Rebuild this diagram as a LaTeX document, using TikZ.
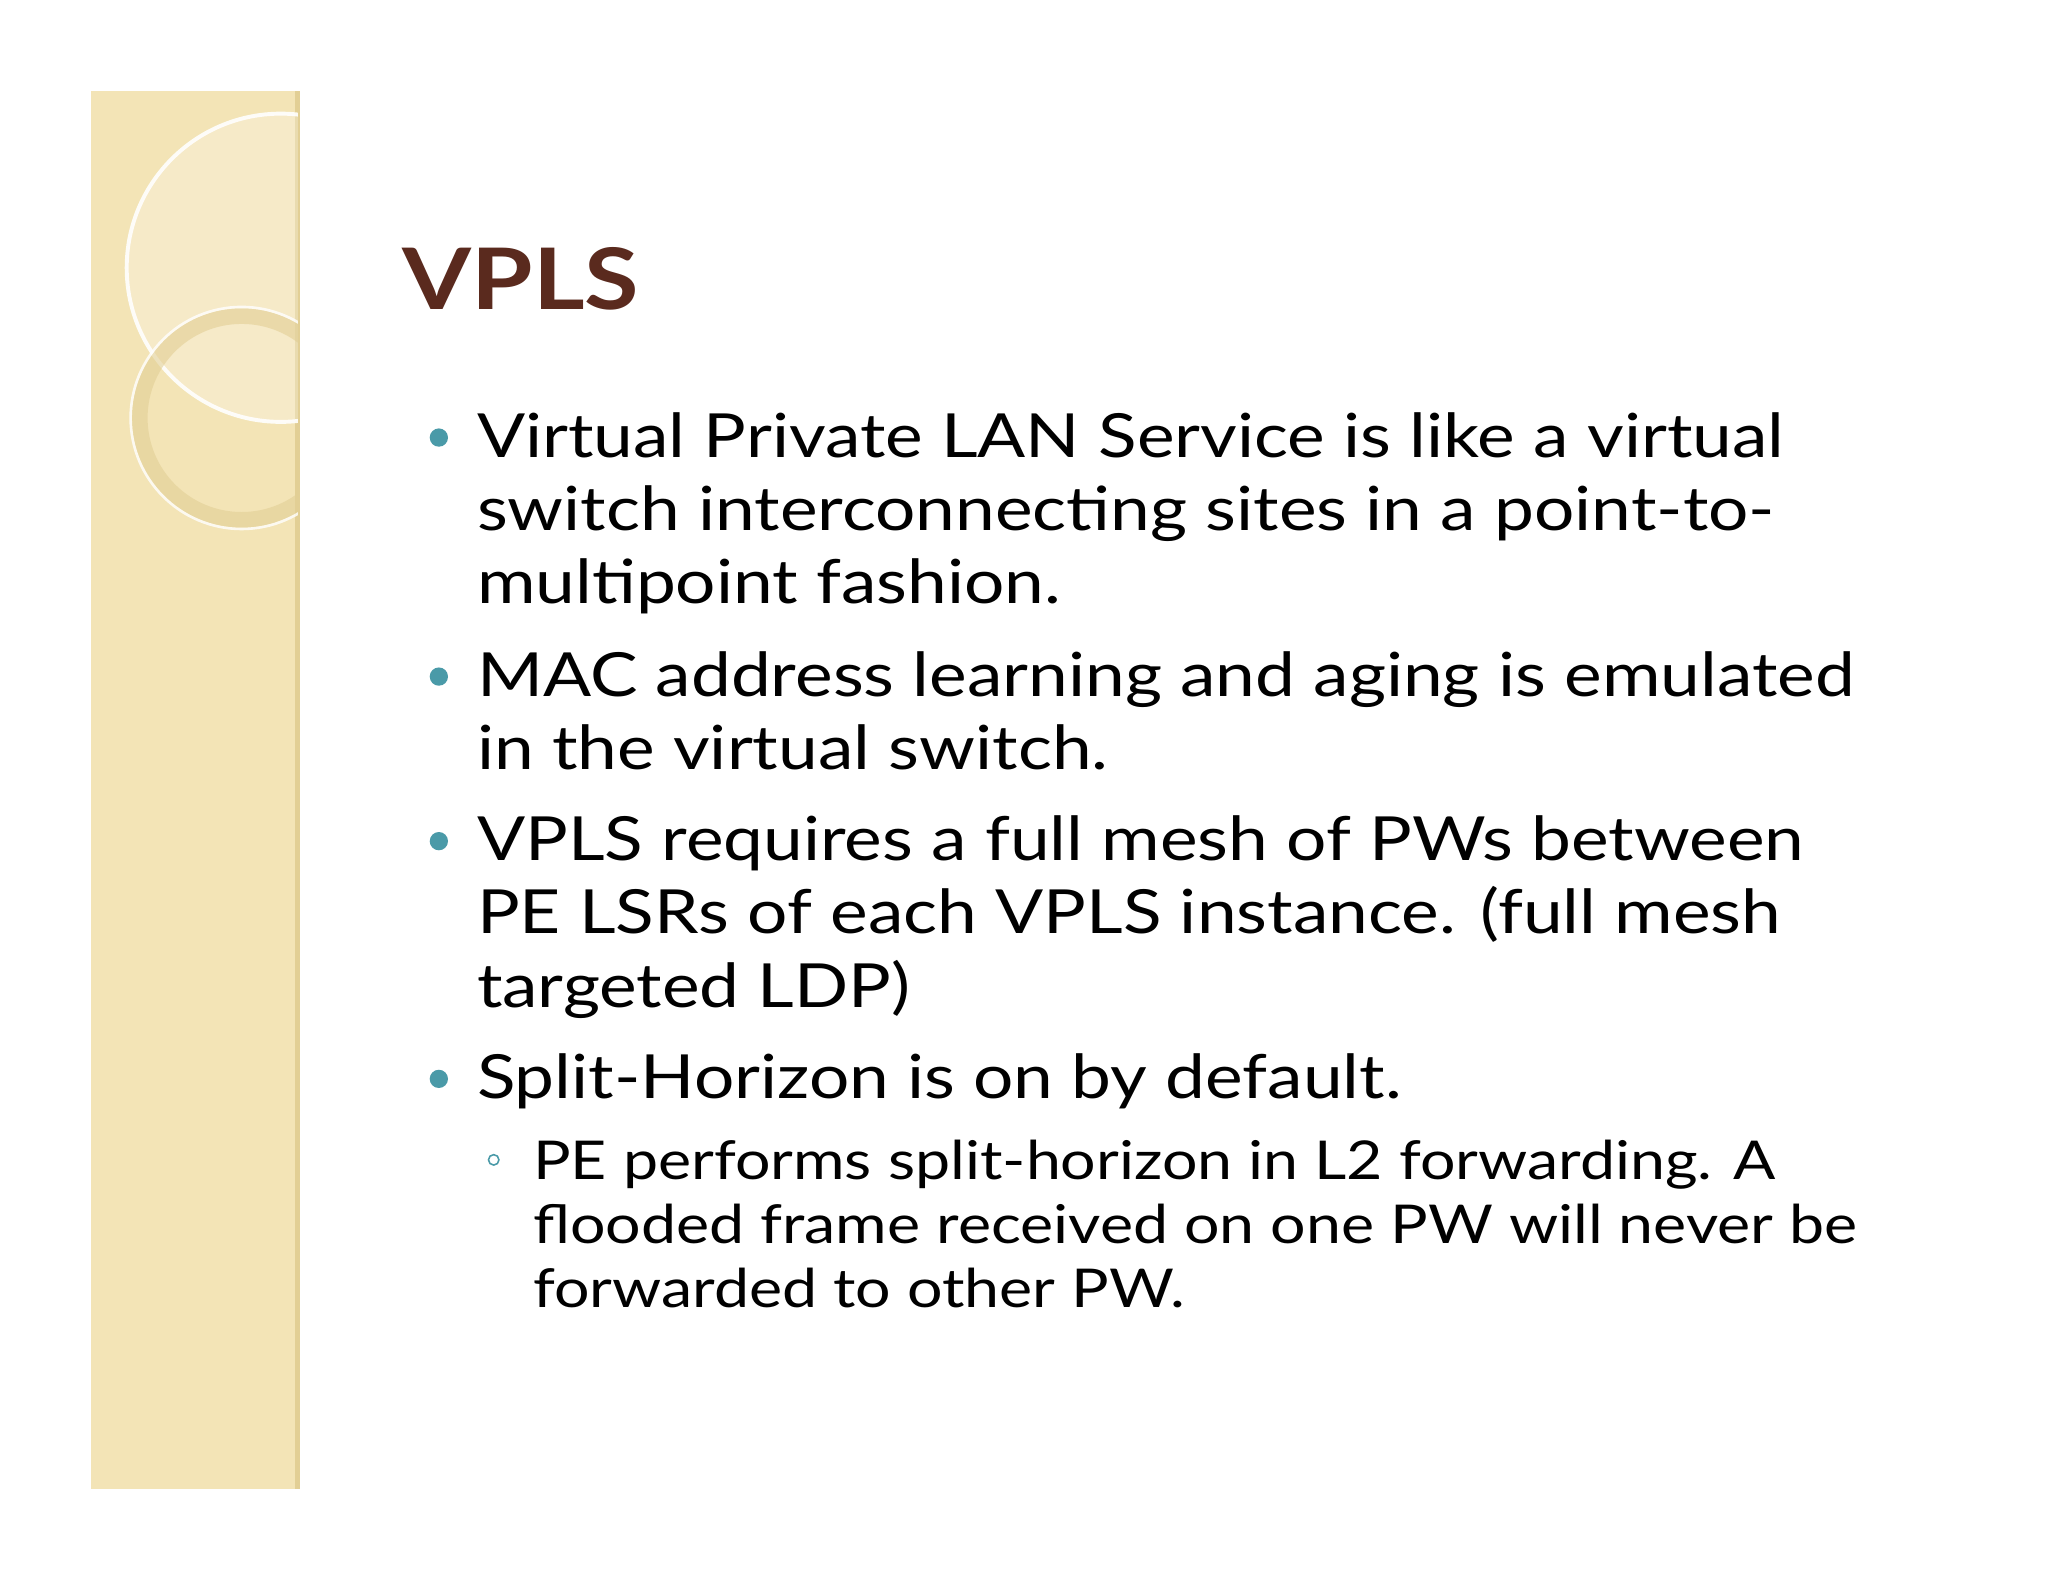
\documentclass[tikz,border=0pt]{standalone}
\usepackage{fontspec}
\setmainfont{Lato}[FakeStretch=1.17]
\definecolor{side}{HTML}{F3E4B6}
\definecolor{sideedge}{HTML}{E2CF95}
\definecolor{ttl}{HTML}{5A2A1E}
\definecolor{bul}{HTML}{4A9AA8}
\begin{document}
\begin{tikzpicture}[x=1pt,y=-1pt,
  line/.style={anchor=base west,inner sep=0,font=\fontsize{46.6}{56}\selectfont},
  subline/.style={anchor=base west,inner sep=0,font=\fontsize{41}{48}\selectfont},
  dot/.style={circle,fill=bul,inner sep=0,minimum size=14pt}]
\useasboundingbox (0,0) rectangle (1568,1211);
\fill[white] (0,0) rectangle (1568,1211);
\fill[side] (70,70) rectangle (230,1140);
\fill[sideedge] (226,70) rectangle (230,1140);
\begin{scope}
\clip (70,70) rectangle (228,1140);
\fill[white,opacity=0.25] (215,205) circle (118);
\draw[white,line width=3pt,opacity=0.9] (215,205) circle (118);
\draw[sideedge,line width=12pt,opacity=0.6] (185,320) circle (78);
\draw[white,line width=2pt,opacity=0.8] (185,320) circle (85);
\end{scope}
\node[anchor=base west,inner sep=0,text=ttl,font=\fontsize{65}{72}\selectfont\bfseries] (title) at (308,237) {VPLS};
\node[dot] (b1) at (336,335) {};
\node[line] (l1) at (365,350) {Virtual Private LAN Service is like a virtual};
\node[line] (l2) at (365,406) {switch interconnecting sites in a point-to-};
\node[line] (l3) at (365,462) {multipoint fashion.};
\node[dot] (b2) at (336,518) {};
\node[line] (l4) at (365,533) {MAC address learning and aging is emulated};
\node[line] (l5) at (365,589) {in the virtual switch.};
\node[dot] (b3) at (336,644) {};
\node[line] (l6) at (365,659) {VPLS requires a full mesh of PWs between};
\node[line] (l7) at (365,715) {PE LSRs of each VPLS instance. (full mesh};
\node[line] (l8) at (365,771) {targeted LDP)};
\node[dot] (b4) at (336,826) {};
\node[line] (l9) at (365,841) {Split-Horizon is on by default.};
\node[circle,draw=bul,line width=1.2pt,inner sep=0,minimum size=8pt] (s1) at (378,888) {};
\node[subline] (m1) at (408,903) {PE performs split-horizon in L2 forwarding. A};
\node[subline] (m2) at (408,952) {flooded frame received on one PW will never be};
\node[subline] (m3) at (408,1001) {forwarded to other PW.};
\end{tikzpicture}
\end{document}
